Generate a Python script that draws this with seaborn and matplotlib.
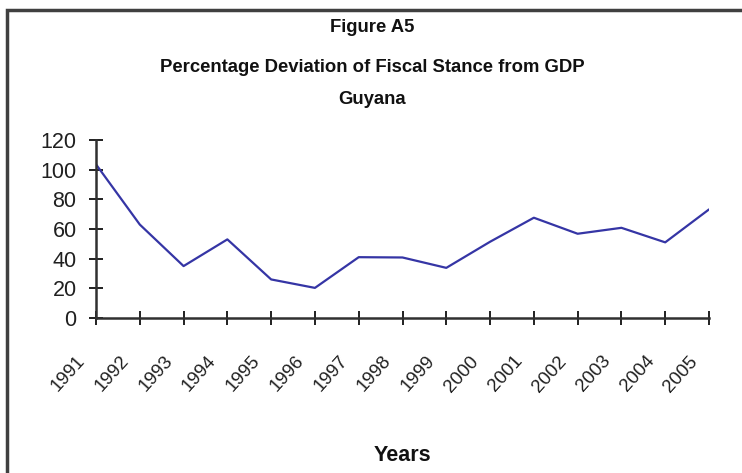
import matplotlib
matplotlib.use("Agg")
import matplotlib.pyplot as plt
import matplotlib.transforms as mtransforms
from matplotlib.patches import Rectangle
import seaborn as sns
import pandas as pd

years = ["1991", "1992", "1993", "1994", "1995", "1996", "1997", "1998",
         "1999", "2000", "2001", "2002", "2003", "2004", "2005"]
deviation = [103.6, 63, 35, 53, 26, 20.3, 41, 40.8, 33.8, 51.4, 67.6,
             56.8, 60.8, 51, 73.2]
y_ticks = [0, 20, 40, 60, 80, 100, 120]

title_lines = ["Figure A5", "Percentage Deviation of Fiscal Stance from GDP", "Guyana"]
x_label = "Years"

sns.set_style("ticks")
plt.rcParams["font.family"] = ["Liberation Sans", "DejaVu Sans"]

df = pd.DataFrame({"Year": years, "Deviation": deviation})

W, H = 742, 473
fig = plt.figure(figsize=(W / 100, H / 100), dpi=100)
ax = fig.add_axes([96 / W, 1 - 318 / H, (709 - 96) / W, (318 - 140) / H])

sns.lineplot(data=df, x="Year", y="Deviation", ax=ax, color="#3535a5",
             linewidth=1.6, sort=False)

ax.set_xlim(0, len(years) - 1)
ax.set_ylim(0, 120)
ax.set_yticks(y_ticks)
ax.set_yticklabels([str(v) for v in y_ticks], fontsize=15.5)
ax.set_xticks(range(len(years)))
ax.set_xticklabels(years, rotation=48, ha="right", va="center",
                   rotation_mode="anchor", fontsize=13.5)

for side in ("top", "right"):
    ax.spines[side].set_visible(False)
for side in ("left", "bottom"):
    ax.spines[side].set_color("#303030")
    ax.spines[side].set_linewidth(1.8)

ax.tick_params(axis="both", direction="inout", length=10, width=1.4,
               color="#202020", labelcolor="#202020")
ax.tick_params(axis="y", pad=9)
ax.tick_params(axis="x", pad=24)

offset = mtransforms.ScaledTranslation(-10 / 72, 0, fig.dpi_scale_trans)
for lbl in ax.get_xticklabels():
    lbl.set_transform(lbl.get_transform() + offset)

ax.set_xlabel("")
ax.set_ylabel("")
ax.set_facecolor("white")

# Chart titles
fig.text(372 / W, 1 - 28 / H, title_lines[0], ha="center", va="center",
         fontsize=13.3, fontweight="bold", color="#111111")
fig.text(372 / W, 1 - 68 / H, title_lines[1], ha="center", va="center",
         fontsize=13.3, fontweight="bold", color="#111111")
fig.text(372 / W, 1 - 100 / H, title_lines[2], ha="center", va="center",
         fontsize=13.3, fontweight="bold", color="#111111")

fig.text(402 / W, 1 - 455 / H, x_label, ha="center", va="center",
         fontsize=15.5, fontweight="bold", color="#111111")

# Outer chart frame (continues past the right and bottom edges)
fig.add_artist(Rectangle((7 / W, -0.1), 1.2, (1 - 10 / H) + 0.1,
                         transform=fig.transFigure, fill=False,
                         linewidth=2.5, edgecolor="#404040"))

fig.savefig("out.png", dpi=100, facecolor="white")
